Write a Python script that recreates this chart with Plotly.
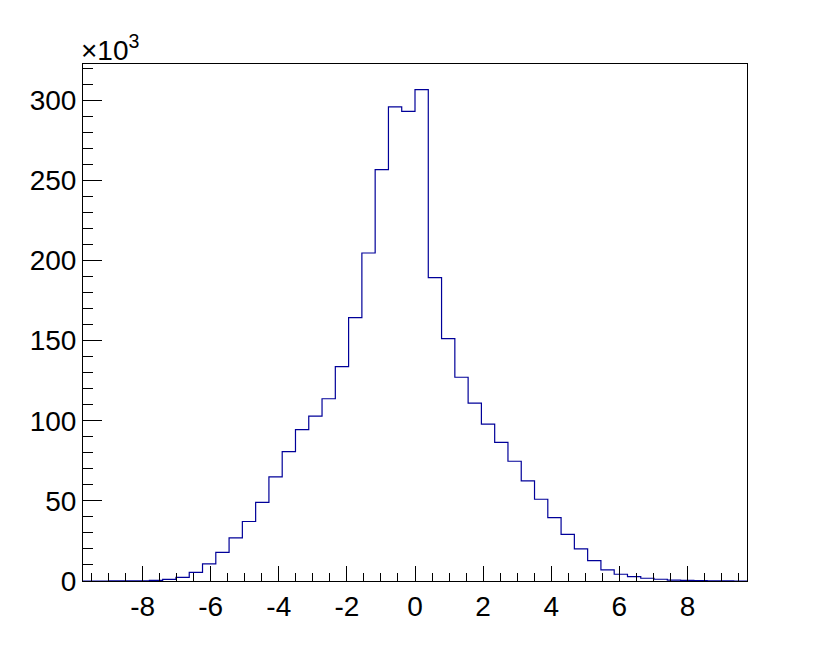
import numpy as np
import plotly.graph_objects as go

# histogram: 50 bins over [-9.75, 9.75], counts in units of 10^3
x_min, x_max, n_bins = -9.75, 9.75, 50
counts_k = [
    0.0, 0.0, 0.02, 0.05, 0.15, 0.4, 1.0, 2.3, 5.4, 10.7,
    17.8, 26.9, 37.1, 49.1, 64.9, 80.7, 94.4, 102.9, 113.7, 133.7,
    164.3, 204.6, 256.6, 295.7, 293.0, 306.5, 189.3, 151.2, 127.1, 110.9,
    97.8, 86.5, 74.7, 62.4, 51.0, 39.5, 29.1, 20.0, 12.7, 6.9,
    4.2, 2.7, 1.7, 1.1, 0.6, 0.4, 0.2, 0.1, 0.05, 0.0,
]

xtick_vals = [-8, -6, -4, -2, 0, 2, 4, 6, 8]
xtick_text = ["-8", "-6", "-4", "-2", "0", "2", "4", "6", "8"]
ytick_vals = [0, 50, 100, 150, 200, 250, 300]

edges = np.linspace(x_min, x_max, n_bins + 1)
y_steps = counts_k + [counts_k[-1]]

font = dict(family="Liberation Sans, Arial, Helvetica, sans-serif", size=28, color="black")

fig = go.Figure()
fig.add_trace(go.Scatter(
    x=edges, y=y_steps, mode="lines", line_shape="hv",
    line=dict(color="#000099", width=1.2), hoverinfo="skip", showlegend=False,
))

fig.update_xaxes(
    range=[x_min, x_max], tickvals=xtick_vals, ticktext=xtick_text,
    ticks="inside", ticklen=15, tickcolor="black", tickwidth=1,
    minor=dict(dtick=0.5, tick0=0, ticks="inside", ticklen=8, tickcolor="black"),
    showline=True, linecolor="black", linewidth=1, mirror=True,
    showgrid=False, zeroline=False, tickfont=font,
)
fig.update_yaxes(
    range=[0, 322.5], tickvals=ytick_vals,
    ticks="inside", ticklen=19, tickcolor="black", tickwidth=1,
    minor=dict(dtick=10, tick0=0, ticks="inside", ticklen=10, tickcolor="black"),
    showline=True, linecolor="black", linewidth=1, mirror=True,
    showgrid=False, zeroline=False, tickfont=font,
)

fig.add_annotation(
    text="×10<sup>3</sup>", xref="paper", yref="paper", x=0, y=1,
    xanchor="left", yanchor="bottom", showarrow=False, font=font,
    xshift=-4, yshift=-4,
)

fig.update_layout(
    width=830, height=646,
    margin=dict(l=83, r=83, t=64, b=65),
    plot_bgcolor="white", paper_bgcolor="white",
)

fig.write_html(
    "out.html",
    config={"displayModeBar": False},
    post_script="document.body.style.margin = '0';",
)
